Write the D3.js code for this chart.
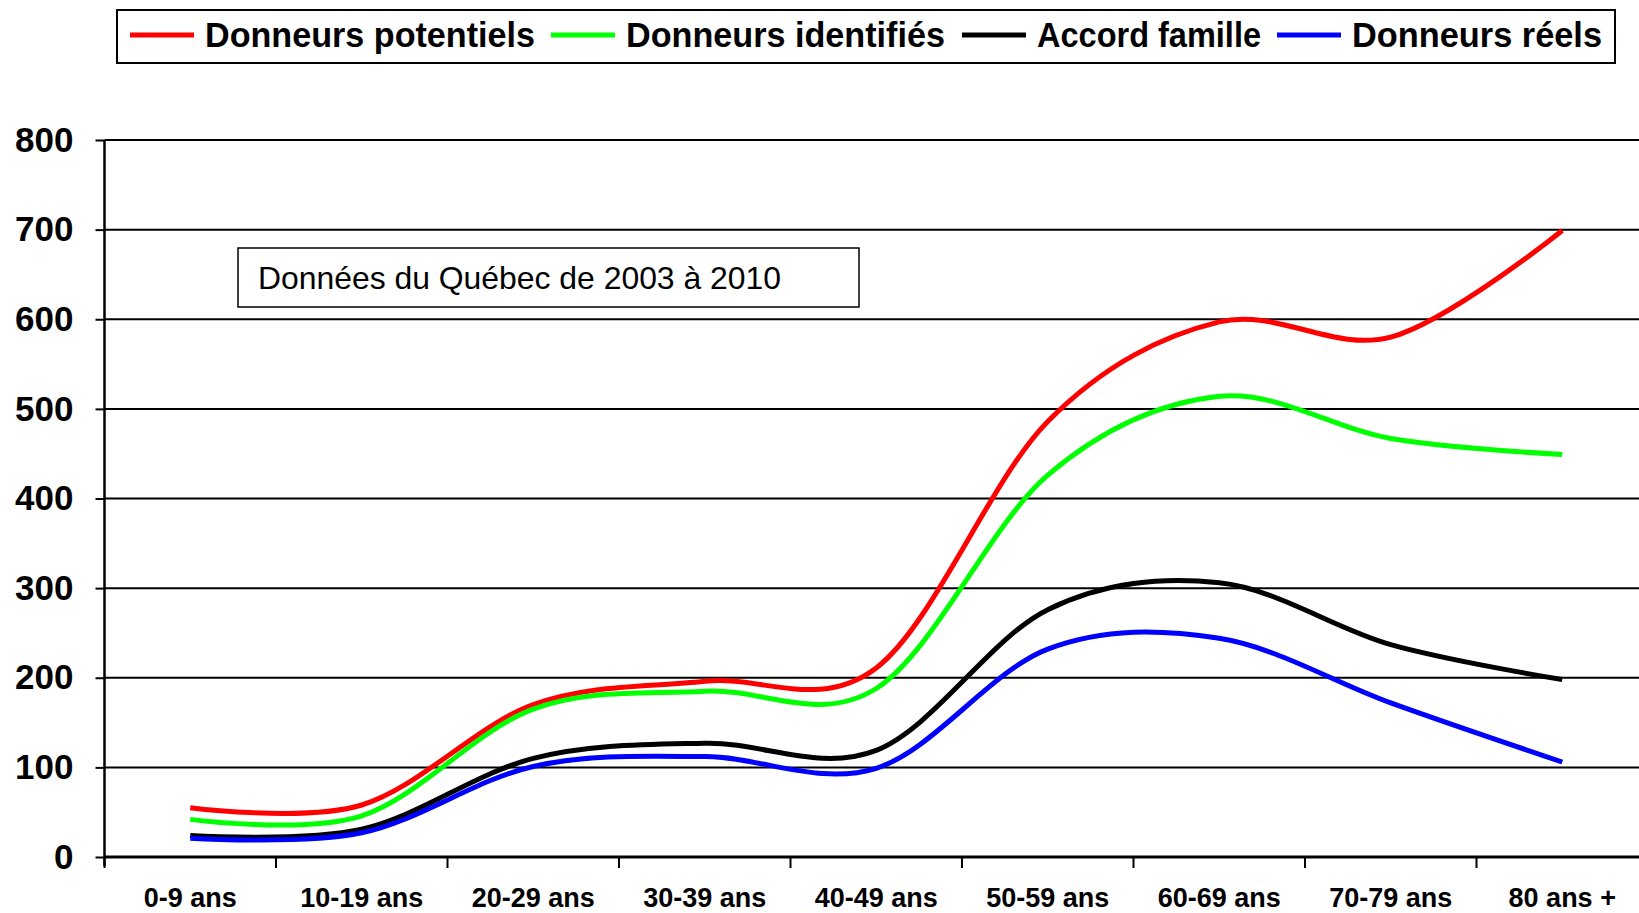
<!DOCTYPE html>
<html>
<head>
<meta charset="utf-8">
<script src="https://cdn.jsdelivr.net/npm/d3@7"></script>
<style>
  body { margin: 0; background: #fff; }
  svg { display: block; font-family: "Liberation Sans", Arial, sans-serif; }
</style>
</head>
<body>
<div id="vis-container"></div>
<script>
const width = 1639,
    height = 913;

// age groups and values
var categories = ["0-9 ans", "10-19 ans", "20-29 ans", "30-39 ans", "40-49 ans",
                  "50-59 ans", "60-69 ans", "70-79 ans", "80 ans +"];
var potentiels  = [55, 58, 170, 196, 211, 486, 597, 580, 699];
var identifies  = [42, 46, 165, 185, 188, 426, 514, 467, 449];
var accord      = [24, 31, 110, 127, 119, 276, 306, 237, 198];
var reels       = [21, 27, 101, 112, 99, 232, 244, 172, 106];
var yTicks = [0, 100, 200, 300, 400, 500, 600, 700, 800];

var seriesNames  = ["Donneurs potentiels", "Donneurs identifiés", "Accord famille", "Donneurs réels"];
var seriesColors = ["#ff0000", "#00ff00", "#000000", "#0000ff"];
var series = [potentiels, identifies, accord, reels];

var svg = d3.select("#vis-container").append("svg")
    .attr("width", width)
    .attr("height", height);

// plot area runs off the right edge like the original
var x = d3.scaleBand()
    .domain(categories)
    .range([104.5, 104.5 + 9 * 171.5]);

var y = d3.scaleLinear()
    .domain([0, 800])
    .range([857, 140]);

// gridlines
svg.append("g").selectAll("line")
    .data(yTicks.slice(1))
    .enter().append("line")
    .attr("x1", 104.5).attr("x2", width)
    .attr("y1", d => y(d)).attr("y2", d => y(d))
    .attr("stroke", "#000").attr("stroke-width", 2);

// y axis
var yAxis = svg.append("g")
    .attr("transform", "translate(104.5,0)")
    .call(d3.axisLeft(y).tickValues(yTicks).tickSize(9).tickPadding(22));
yAxis.select(".domain").attr("stroke-width", 2.5).attr("d", "M0,140V866");
yAxis.selectAll(".tick line").attr("stroke-width", 2);
yAxis.selectAll(".tick text")
    .attr("font-size", 35).attr("font-weight", "bold")
    .attr("font-family", "'Liberation Sans', Arial, sans-serif")
    .attr("fill", "#000");

// x axis line and boundary ticks
svg.append("line")
    .attr("x1", 104.5).attr("x2", width)
    .attr("y1", y(0)).attr("y2", y(0))
    .attr("stroke", "#000").attr("stroke-width", 3);

svg.append("g").selectAll("line")
    .data(categories)
    .enter().append("line")
    .attr("x1", d => x(d)).attr("x2", d => x(d))
    .attr("y1", y(0)).attr("y2", y(0) + 11)
    .attr("stroke", "#000").attr("stroke-width", 2);

svg.append("g").selectAll("text")
    .data(categories)
    .enter().append("text")
    .attr("x", d => x(d) + x.bandwidth() / 2)
    .attr("y", 907)
    .attr("text-anchor", "middle")
    .attr("font-size", 27).attr("font-weight", "bold")
    .text(d => d);

// lines (Excel style smoothing)
var line = d3.line()
    .x((d, i) => x(categories[i]) + x.bandwidth() / 2)
    .y(d => y(d))
    .curve(d3.curveCardinal.tension(0));

svg.append("g").selectAll("path")
    .data(series)
    .enter().append("path")
    .attr("d", line)
    .attr("fill", "none")
    .attr("stroke", (d, i) => seriesColors[i])
    .attr("stroke-width", 5)
    .attr("stroke-linejoin", "round");

// note box
svg.append("rect")
    .attr("x", 238).attr("y", 248)
    .attr("width", 621).attr("height", 59)
    .attr("fill", "#fff").attr("stroke", "#000").attr("stroke-width", 1.5);
svg.append("text")
    .attr("x", 258).attr("y", 289)
    .attr("font-size", 31.5)
    .attr("textLength", 523)
    .attr("lengthAdjust", "spacingAndGlyphs")
    .text("Données du Québec de 2003 à 2010");

// legend
svg.append("rect")
    .attr("x", 117).attr("y", 10)
    .attr("width", 1498).attr("height", 53)
    .attr("fill", "#fff").attr("stroke", "#000").attr("stroke-width", 2);

var legendX = [130, 551, 962, 1277];
var legendW = [330, 319, 224, 250];

var leg = svg.append("g").selectAll("g")
    .data(seriesNames)
    .enter().append("g")
    .attr("transform", (d, i) => "translate(" + legendX[i] + ",0)");

leg.append("line")
    .attr("x1", 0).attr("x2", 64)
    .attr("y1", 35).attr("y2", 35)
    .attr("stroke", (d, i) => seriesColors[i])
    .attr("stroke-width", 5);

leg.append("text")
    .attr("x", 75).attr("y", 47)
    .attr("font-size", 35).attr("font-weight", "bold")
    .attr("textLength", (d, i) => legendW[i])
    .attr("lengthAdjust", "spacingAndGlyphs")
    .text(d => d);
</script>
</body>
</html>
